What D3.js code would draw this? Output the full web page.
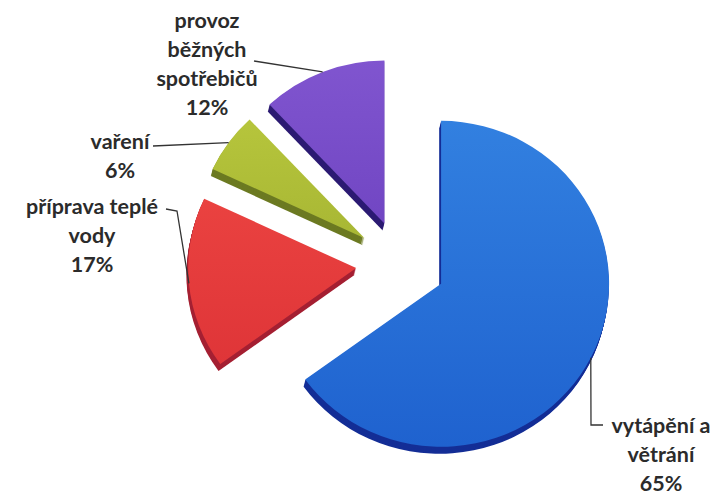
<!DOCTYPE html>
<html>
<head>
<meta charset="utf-8">
<script src="https://cdn.jsdelivr.net/npm/d3@7"></script>
<style>
  body { margin: 0; background: #fff; }
  text { font-family: Lato, "Open Sans", sans-serif; font-weight: 700; fill: #2b2b2b; }
</style>
</head>
<body>
<script>
// slice data (clockwise from 12 o'clock)
var categories = ['vytápění a větrání', 'příprava teplé vody', 'vaření', 'provoz běžných spotřebičů'];
var values = [65, 17, 6, 12];
// label lines as printed in the chart
var labelLines = [
  ['vytápění a', 'větrání', '65%'],
  ['příprava teplé', 'vody', '17%'],
  ['vaření', '6%'],
  ['provoz', 'běžných', 'spotřebičů', '12%']
];
var topColors = ['#3280e0', '#ea4240', '#b6c53c', '#8055cf'];
var bottomColors = ['#1f62cf', '#df3538', '#a8b734', '#7146c3'];
var sideColors = ['#142e96', '#a52033', '#6c7a22', '#2b1a72'];

var width = 716,
    height = 495;

var svg = d3.select('body')
  .append('svg')
  .attr('width', width)
  .attr('height', height);

// pie center, radius, explosion and thickness
var cx = 401, cy = 264, r = 168, ky = 0.97, explode = 45, depth = 7;

var pie = d3.pie().sort(null).value(function(d) { return d; });
var arcs = pie(values);

var arc = d3.arc().innerRadius(0).outerRadius(r);

// gradients for the top faces
var defs = svg.append('defs');
arcs.forEach(function(d, i) {
  var g = defs.append('linearGradient')
    .attr('id', 'grad' + i)
    .attr('x1', 0).attr('y1', 0).attr('x2', 0).attr('y2', 1);
  g.append('stop').attr('offset', '0%').attr('stop-color', topColors[i]);
  g.append('stop').attr('offset', '100%').attr('stop-color', bottomColors[i]);
});

function offset(d) {
  var a = (d.startAngle + d.endAngle) / 2;
  return [cx + explode * Math.sin(a), cy - explode * Math.cos(a) * ky];
}

var slices = svg.append('g')
  .selectAll('g')
  .data(arcs)
  .enter()
  .append('g')
  .attr('transform', function(d) {
    var o = offset(d);
    return 'translate(' + o[0] + ',' + o[1] + ') scale(1,' + ky + ')';
  });

// side (thickness) made of stacked copies
slices.each(function(d, i) {
  var g = d3.select(this);
  for (var k = depth; k >= 1; k--) {
    g.append('path')
      .attr('d', arc(d))
      .attr('transform', 'translate(' + (-k * 0.25) + ',' + (k / ky) + ')')
      .attr('fill', sideColors[i]);
  }
  g.append('path')
    .attr('d', arc(d))
    .attr('fill', 'url(#grad' + i + ')');
});

// anchor of a leader line: outer rim at mid angle
function anchor(d) {
  var a = (d.startAngle + d.endAngle) / 2;
  var o = offset(d);
  return [o[0] + r * Math.sin(a), o[1] - r * Math.cos(a) * ky];
}

// label layout: center x, first baseline, line height
var labelPos = [
  [661, 433],
  [92, 214],
  [120, 149],
  [207, 28]
];
var lineH = 29;

// leader lines
var lines = svg.append('g')
  .attr('fill', 'none')
  .attr('stroke', '#333')
  .attr('stroke-width', 1.3);

var a0 = anchor(arcs[0]);
lines.append('path').attr('d', d3.line()([a0, [591, 425], [603, 425]]));
var a1 = anchor(arcs[1]);
lines.append('path').attr('d', d3.line()([[166, 209], [177, 211], a1]));
var a2 = anchor(arcs[2]);
lines.append('path').attr('d', d3.line()([[153, 146], a2]));
var a3 = anchor(arcs[3]);
lines.append('path').attr('d', d3.line()([[254, 61], a3]));

// labels
var labels = svg.append('g')
  .selectAll('text')
  .data(labelLines)
  .enter()
  .append('text')
  .attr('text-anchor', 'middle')
  .style('font-size', '21.5px');

labels.each(function(lns, i) {
  var t = d3.select(this);
  lns.forEach(function(s, j) {
    t.append('tspan')
      .attr('x', labelPos[i][0])
      .attr('y', labelPos[i][1] + j * lineH)
      .text(s);
  });
});
</script>
</body>
</html>
